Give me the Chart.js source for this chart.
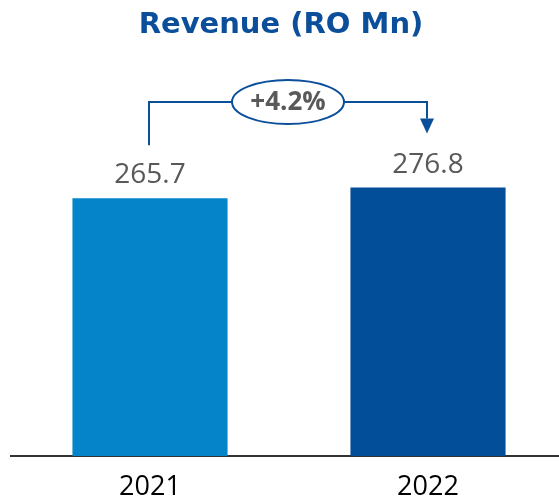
<!DOCTYPE html>
<html>
<head>
<meta charset="utf-8">
<script src="https://cdn.jsdelivr.net/npm/chart.js@4.4.0/dist/chart.umd.min.js"></script>
<style>
  html, body { margin: 0; padding: 0; background: #fff; overflow: hidden; }
  #wrap { width: 570px; height: 501px; }
</style>
</head>
<body>
<div id="wrap"><canvas id="revenueChart" width="570" height="501"></canvas></div>
<script>
// chart data
const years = ['2021', '2022'];
const revenue = [265.7, 276.8];
const barColors = ['#0584C9', '#034E98'];
const chartTitle = 'Revenue (RO Mn)';
const growthLabel = '+4.2%';

const blue = '#0B4F9B';
const grey = '#595959';

// draws title, value labels and the growth bracket
const annotations = {
    id: 'annotations',
    afterDraw(chart) {
        const ctx = chart.ctx;
        const xs = chart.scales.x;
        const ys = chart.scales.y;
        ctx.save();

        // title
        ctx.fillStyle = blue;
        ctx.font = 'bold 29px "DejaVu Sans"';
        ctx.textAlign = 'center';
        ctx.textBaseline = 'alphabetic';
        ctx.fillText(chartTitle, 281, 33);

        // value labels
        ctx.fillStyle = grey;
        ctx.font = '28px "Open Sans"';
        const tops = [];
        const centers = [];
        revenue.forEach((v, i) => {
            const x = xs.getPixelForValue(i);
            const y = ys.getPixelForValue(v);
            centers.push(x);
            tops.push(y);
            ctx.fillText(v.toFixed(1), x, y - 15);
        });

        // bracket with arrow
        const lx = centers[0] - 1;
        const rx = centers[1] - 1;
        const by = 102;
        const midX = (lx + rx) / 2;
        const ex = 56, ey = 22;
        ctx.strokeStyle = blue;
        ctx.lineWidth = 2;
        ctx.beginPath();
        ctx.moveTo(lx, tops[0] - 53);
        ctx.lineTo(lx, by);
        ctx.lineTo(midX - ex, by);
        ctx.moveTo(midX + ex, by);
        ctx.lineTo(rx, by);
        ctx.lineTo(rx, tops[1] - 69);
        ctx.stroke();

        ctx.fillStyle = blue;
        ctx.beginPath();
        ctx.moveTo(rx - 7, tops[1] - 69);
        ctx.lineTo(rx + 7, tops[1] - 69);
        ctx.lineTo(rx, tops[1] - 54);
        ctx.closePath();
        ctx.fill();

        ctx.beginPath();
        ctx.ellipse(midX, by, ex, ey, 0, 0, Math.PI * 2);
        ctx.fillStyle = '#fff';
        ctx.fill();
        ctx.stroke();

        ctx.fillStyle = grey;
        ctx.font = 'bold 26px "Open Sans"';
        ctx.textBaseline = 'middle';
        ctx.fillText(growthLabel, midX, by + 1);

        ctx.restore();
    }
};

new Chart(document.getElementById('revenueChart'), {
    type: 'bar',
    data: {
        labels: years,
        datasets: [{
            data: revenue,
            backgroundColor: barColors,
            borderWidth: 0,
            categoryPercentage: 1,
            barPercentage: 0.558
        }]
    },
    options: {
        responsive: false,
        animation: false,
        layout: {
            padding: { top: 38, left: 11, right: 3, bottom: -18 }
        },
        plugins: {
            legend: { display: false },
            title: { display: false },
            tooltip: { enabled: false }
        },
        scales: {
            x: {
                grid: { display: false, drawTicks: false },
                border: { display: true, color: '#333', width: 2 },
                ticks: {
                    color: '#000',
                    padding: 18,
                    font: { family: 'Open Sans', size: 27, lineHeight: 1 }
                }
            },
            y: {
                display: false,
                min: 0,
                max: 431
            }
        }
    },
    plugins: [annotations]
});
</script>
</body>
</html>
